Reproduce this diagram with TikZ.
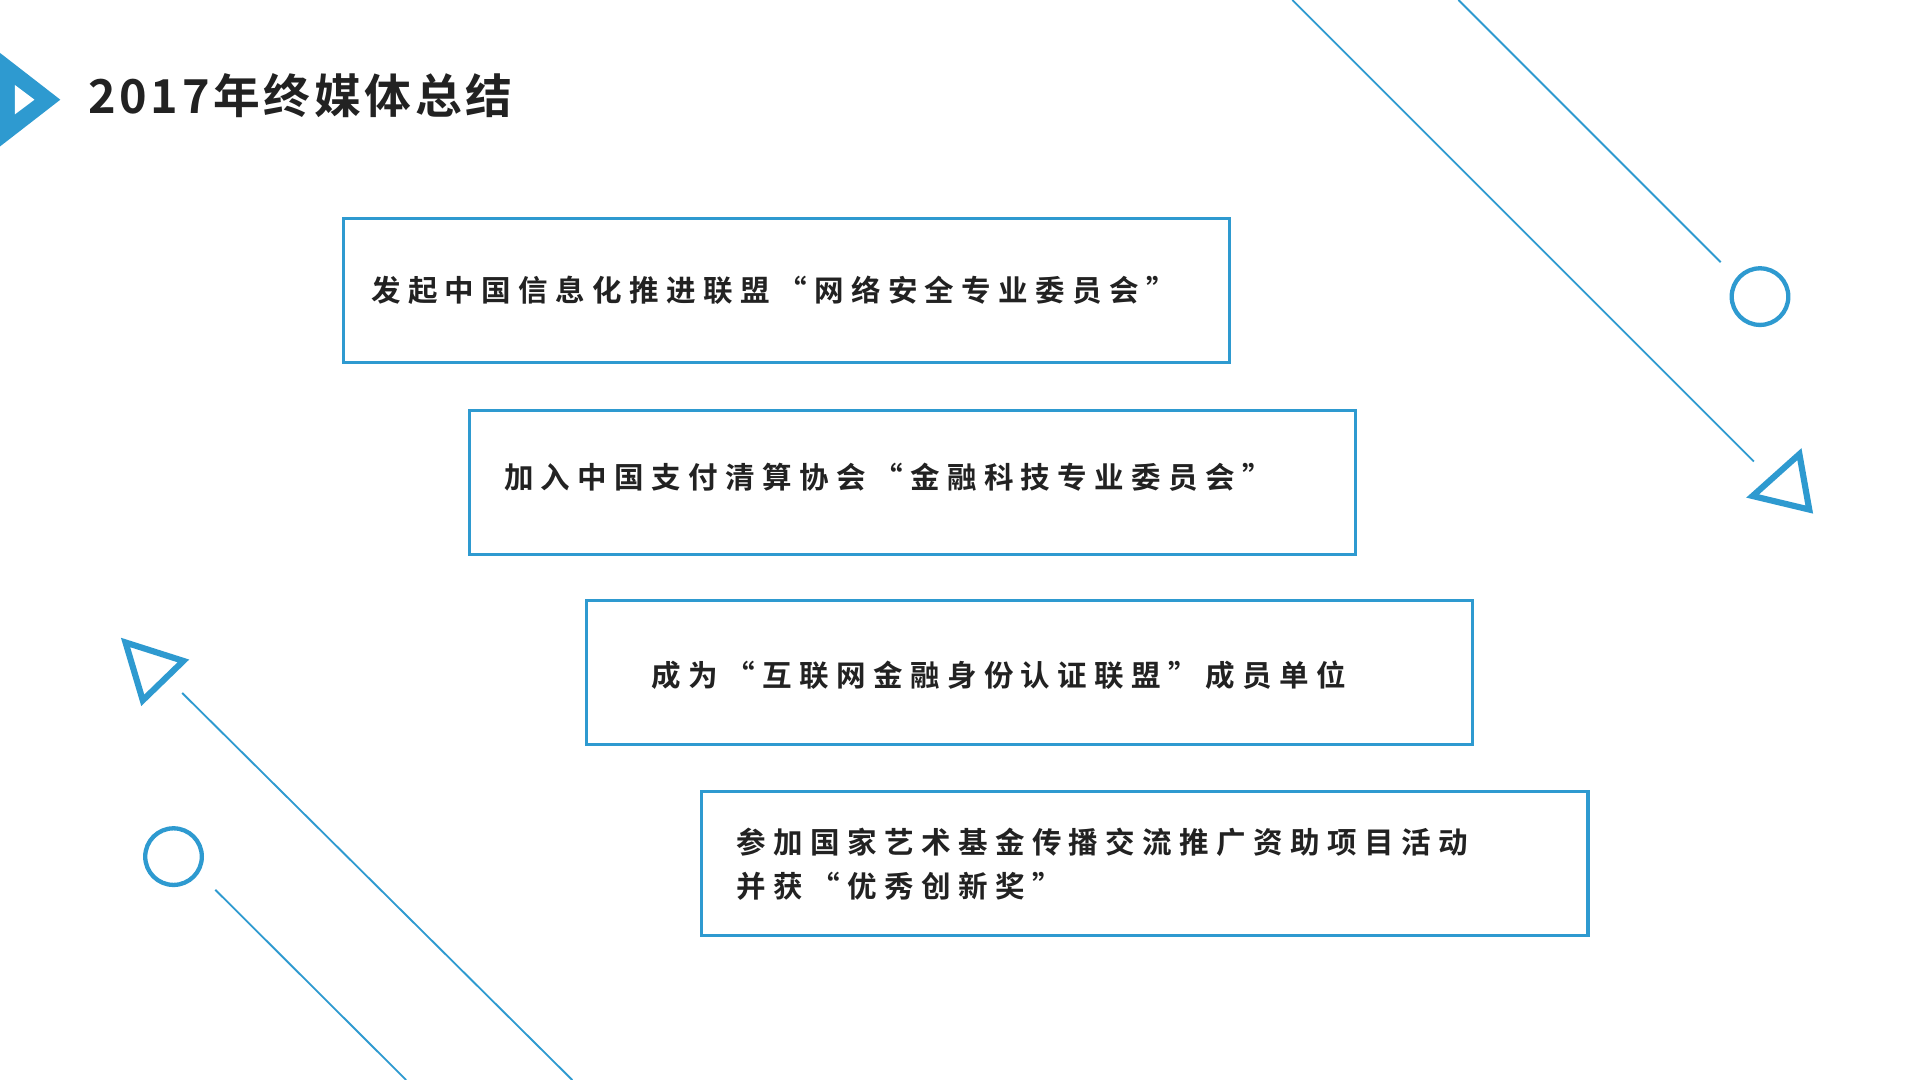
\documentclass[tikz,border=0pt]{standalone}
\usepackage{fontspec}
\newfontfamily\cjk[LetterSpace=25]{Noto Sans CJK SC Bold}
\newfontfamily\cjkt[LetterSpace=8]{Noto Sans CJK SC Bold}
\definecolor{bl}{HTML}{2E9AD0}
\definecolor{tx}{HTML}{222222}
\begin{document}
\begin{tikzpicture}[x=1pt,y=-1pt,
  boxs/.style={draw=bl,line width=2.5pt,minimum width=720pt,minimum height=117pt,anchor=north west,inner sep=0pt},
  lbl/.style={anchor=west,text=tx,font=\cjk\fontsize{24}{36}\selectfont,align=left},
  deco/.style={draw=bl,line width=1.5pt},
  thick deco/.style={draw=bl,line width=5pt,line join=miter}]
\useasboundingbox[fill=white] (0,0) rectangle (1560,877.5);
% title icon
\fill[bl] (0,43) -- (49,81) -- (0,119) -- cycle;
\fill[white] (12,69) -- (28,81) -- (12,93) -- cycle;
\node[anchor=west,text=tx,font=\cjkt\fontsize{38}{40}\selectfont] (title) at (68,78) {2017年终媒体总结};
% boxes
\node[boxs] (b1) at (278,176) {};
\node[boxs] (b2) at (380,332) {};
\node[boxs] (b3) at (475,487) {};
\node[boxs] (b4) at (569,642) {};
\node[lbl] (t1) at (298,236) {发起中国信息化推进联盟“网络安全专业委员会”};
\node[lbl] (t2) at (406,388) {加入中国支付清算协会“金融科技专业委员会”};
\node[lbl] (t3) at (526,549) {成为“互联网金融身份认证联盟”成员单位};
\node[lbl] (t4) at (595,702) {参加国家艺术基金传播交流推广资助项目活动\\并获“优秀创新奖”};
% decorations top right
\draw[deco] (1050,0) -- (1425,375);
\draw[deco] (1185,0) -- (1398,213);
\draw[deco,line width=3.5pt] (1430,241) circle (23);
\draw[thick deco] (1462,369) -- (1470,414) -- (1424,403) -- cycle;
% bottom left
\draw[thick deco] (102,522) -- (149,537) -- (116,569) -- cycle;
\draw[deco,line width=3.5pt] (141,696) circle (23);
\draw[deco] (148,563) -- (465,877.5);
\draw[deco] (175,723) -- (330,877.5);
\end{tikzpicture}
\end{document}
